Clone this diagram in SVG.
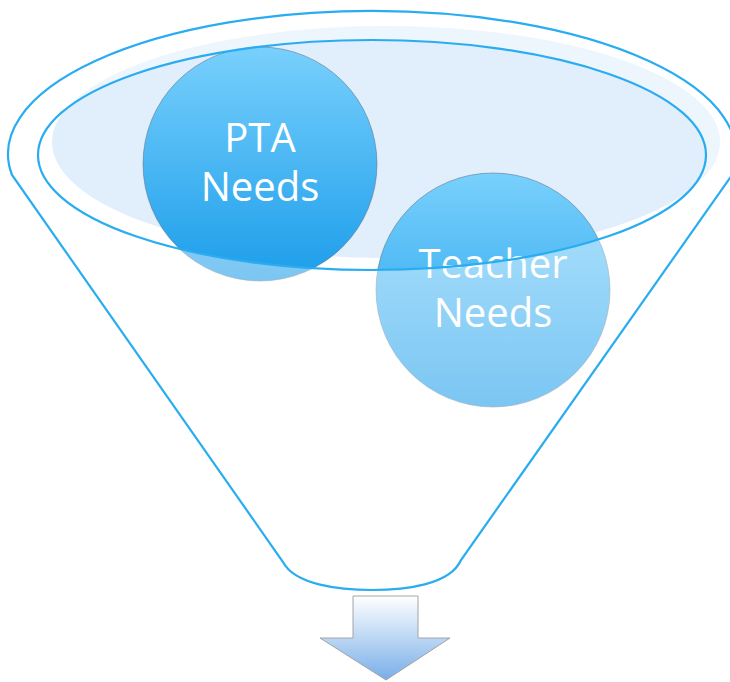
<svg xmlns="http://www.w3.org/2000/svg" width="730" height="682" viewBox="0 0 730 682">
  <defs>
    <linearGradient id="ball" x1="0" y1="0" x2="0" y2="1">
      <stop offset="0" stop-color="#78D0FC"/>
      <stop offset="1" stop-color="#1C9DEA"/>
    </linearGradient>
    <linearGradient id="arrowGrad" x1="0" y1="0" x2="0" y2="1">
      <stop offset="0" stop-color="#FFFFFF"/>
      <stop offset="1" stop-color="#78AEE9"/>
    </linearGradient>
    <style>
      .ball { fill: url(#ball); stroke: #5E7386; stroke-width: 0.8; stroke-opacity: 0.7; }
      .label { font-family: "Open Sans", "Noto Sans", sans-serif; font-size: 40px; fill: #FFFFFF; text-anchor: middle; }
      .line { fill: none; stroke: #2AACF1; stroke-width: 2.2; }
    </style>
  </defs>

  <rect width="730" height="682" fill="#FFFFFF"/>

  <g id="funnel-back">
    <ellipse cx="386" cy="142" rx="334" ry="116" fill="#E1EEFC"/>
  </g>

  <g id="pta-needs">
    <circle class="ball" cx="260" cy="164" r="117"/>
    <text class="label"><tspan x="260" y="152">PTA</tspan><tspan x="260" y="201">Needs</tspan></text>
  </g>

  <g id="teacher-needs">
    <circle class="ball" cx="493" cy="290" r="117"/>
    <text class="label"><tspan x="493" y="278">Teacher</tspan><tspan x="493" y="327">Needs</tspan></text>
  </g>

  <g id="funnel-front">
    <path fill="#FFFFFF" fill-opacity="0.42" fill-rule="evenodd"
      d="M12,175 A364,143 0 1 1 732,175 L461,560 C450,585 405,590 372,590 C340,590 295,585 283,562 Z
         M38,155 A334,115 0 1 0 706,155 A334,115 0 1 0 38,155 Z"/>
    <path class="line" d="M12,175 A364,143 0 1 1 732,175 L461,560 C450,585 405,590 372,590 C340,590 295,585 283,562 Z"/>
    <ellipse class="line" cx="372" cy="155" rx="334" ry="115"/>
  </g>

  <g id="connectors">
    <path id="down-arrow" d="M353,596 L418,596 L418,638 L450,638 L386,680 L320,638 L353,638 Z"
      fill="url(#arrowGrad)" stroke="#A4A4A4" stroke-width="1"/>
  </g>
</svg>
